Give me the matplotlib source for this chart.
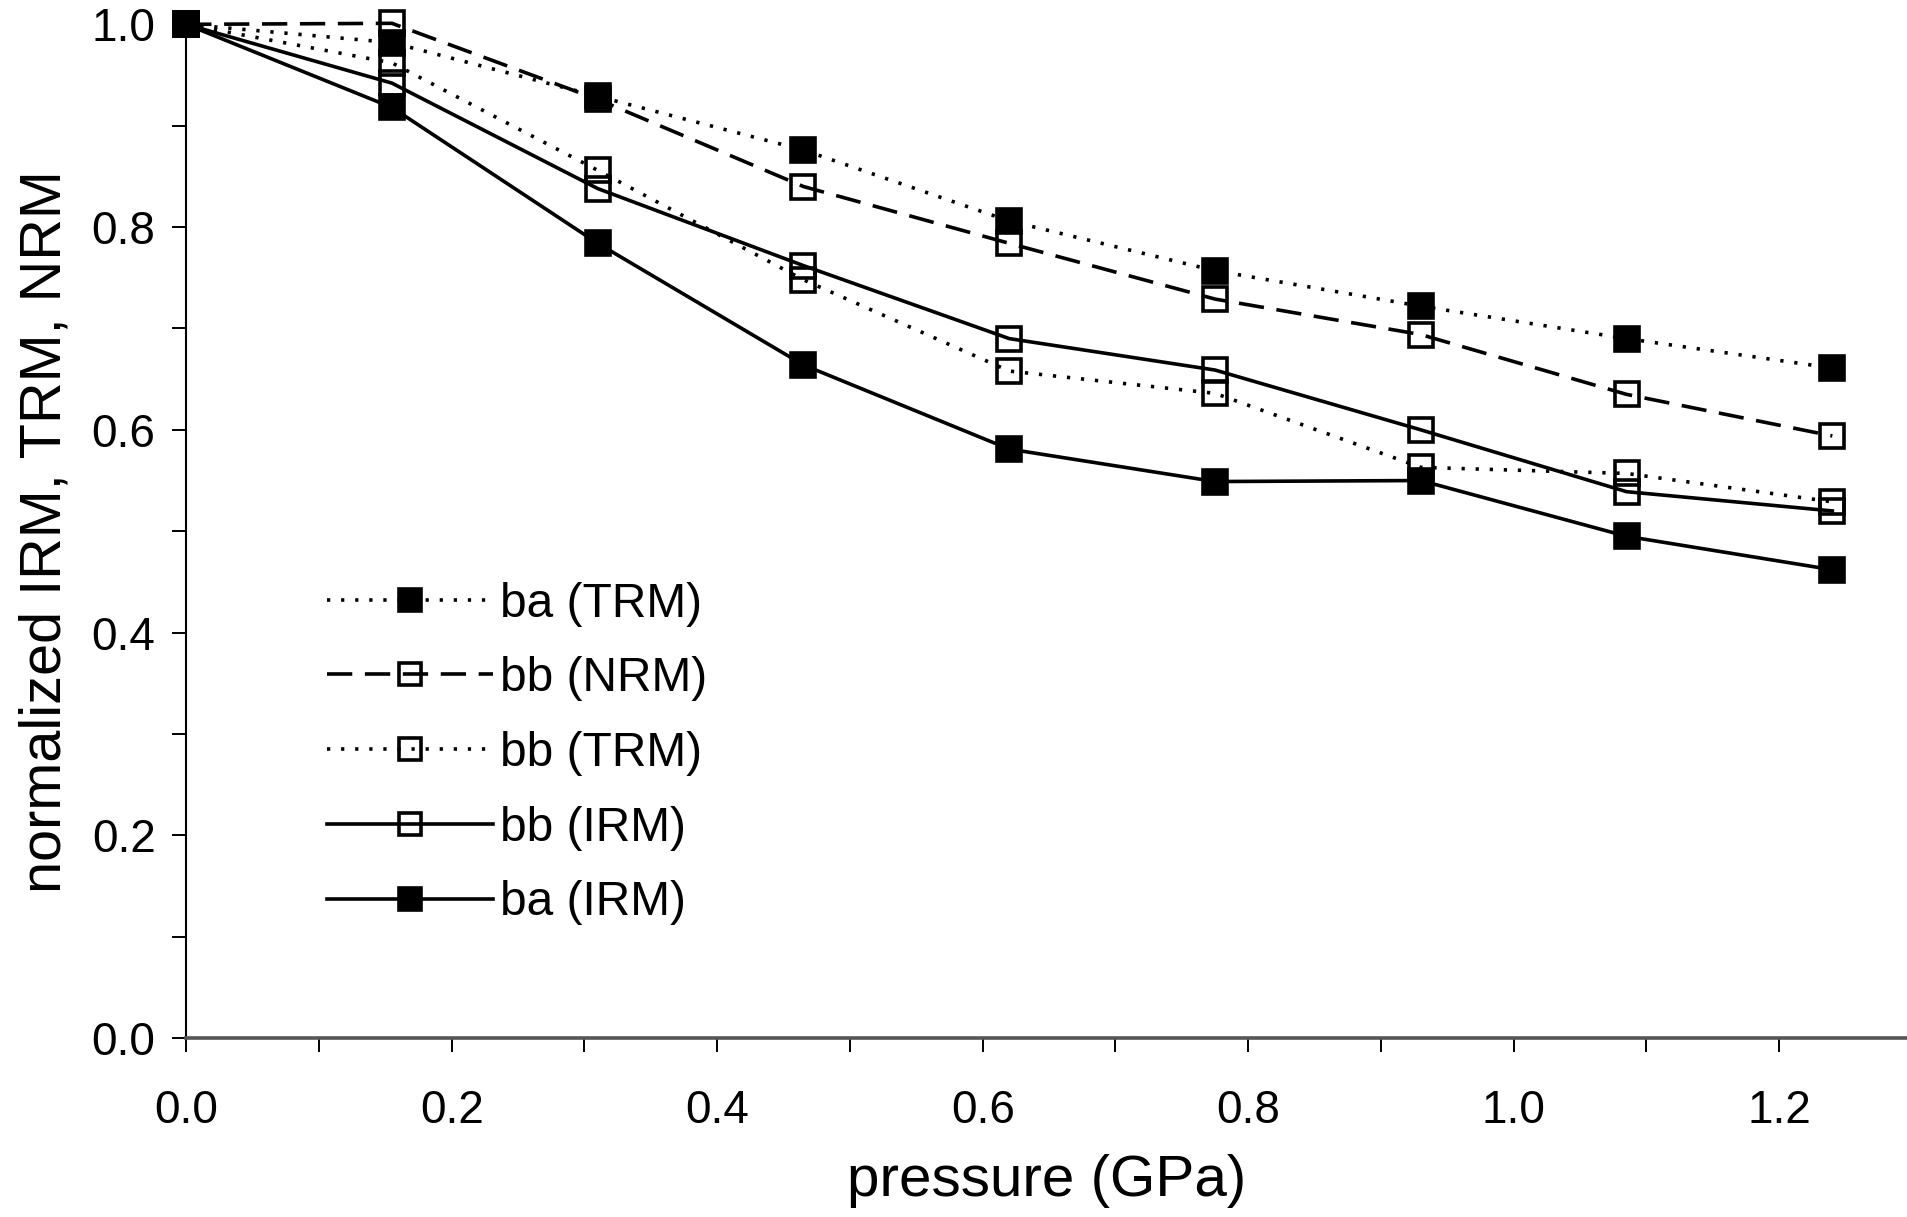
import numpy as np
import matplotlib
matplotlib.use("Agg")
import matplotlib.pyplot as plt
from matplotlib.ticker import MultipleLocator

# pressure steps (GPa)
pressure = [0.0, 0.155, 0.31, 0.465, 0.62, 0.775, 0.93, 1.085, 1.24]

# normalized remanence
ba_trm = [1.0, 0.982, 0.929, 0.876, 0.806, 0.757, 0.722, 0.690, 0.661]
bb_nrm = [1.0, 1.001, 0.926, 0.840, 0.784, 0.729, 0.694, 0.635, 0.594]
bb_trm = [1.0, 0.962, 0.856, 0.748, 0.658, 0.636, 0.563, 0.557, 0.529]
bb_irm = [1.0, 0.942, 0.838, 0.762, 0.690, 0.659, 0.600, 0.539, 0.520]
ba_irm = [1.0, 0.918, 0.784, 0.664, 0.581, 0.549, 0.550, 0.495, 0.462]

labels = ["ba (TRM)", "bb (NRM)", "bb (TRM)", "bb (IRM)", "ba (IRM)"]
xticks = [0.0, 0.2, 0.4, 0.6, 0.8, 1.0, 1.2]
yticks = [0.0, 0.2, 0.4, 0.6, 0.8, 1.0]

plt.rcParams.update({"font.family": ["Liberation Sans", "DejaVu Sans"]})

fig = plt.figure(figsize=(19.08, 12.17), dpi=100)
ax = fig.add_axes([153 / 1568, 1 - 853 / 1000, 1 - 153 / 1568, (853 - 20) / 1000])

dot = (0, (0.9, 3.0))
dash = (0, (7, 3.5))
common = dict(color="black", lw=2.6, ms=17, mew=2.6, clip_on=False)

ax.plot(pressure, ba_trm, linestyle=dot, marker="s", mfc="black", label=labels[0], **common)
ax.plot(pressure, bb_nrm, linestyle=dash, marker="s", mfc="none", label=labels[1], **common)
ax.plot(pressure, bb_trm, linestyle=dot, marker="s", mfc="none", label=labels[2], **common)
ax.plot(pressure, bb_irm, linestyle="-", marker="s", mfc="none", label=labels[3], **common)
ax.plot(pressure, ba_irm, linestyle="-", marker="s", mfc="black", label=labels[4], **common)

ax.set_xlim(0, 1.297)
ax.set_ylim(0, 1.0)
ax.set_xticks(xticks)
ax.set_xticklabels([f"{v:.1f}" for v in xticks])
ax.set_yticks(yticks)
ax.set_yticklabels([f"{v:.1f}" for v in yticks])
ax.xaxis.set_minor_locator(MultipleLocator(0.1))
ax.yaxis.set_minor_locator(MultipleLocator(0.1))

for s in ["top", "right"]:
    ax.spines[s].set_visible(False)
ax.spines["left"].set_linewidth(1.5)
ax.spines["bottom"].set_linewidth(2.6)
ax.spines["bottom"].set_color("#555555")

ax.tick_params(which="both", direction="out", length=10, width=1.4, labelsize=33)
ax.tick_params(axis="x", pad=27)
ax.tick_params(axis="y", pad=12)

ax.set_xlabel("pressure (GPa)", fontsize=42, labelpad=15)
ax.set_ylabel("normalized IRM, TRM, NRM", fontsize=41.5, labelpad=14)

ax.legend(loc="upper left", bbox_to_anchor=(0.068, 0.474), frameon=False,
          fontsize=34.5, handlelength=3.45, handletextpad=0.15,
          labelspacing=0.62, borderpad=0, markerscale=0.95)

fig.savefig("out.png", dpi=100)
